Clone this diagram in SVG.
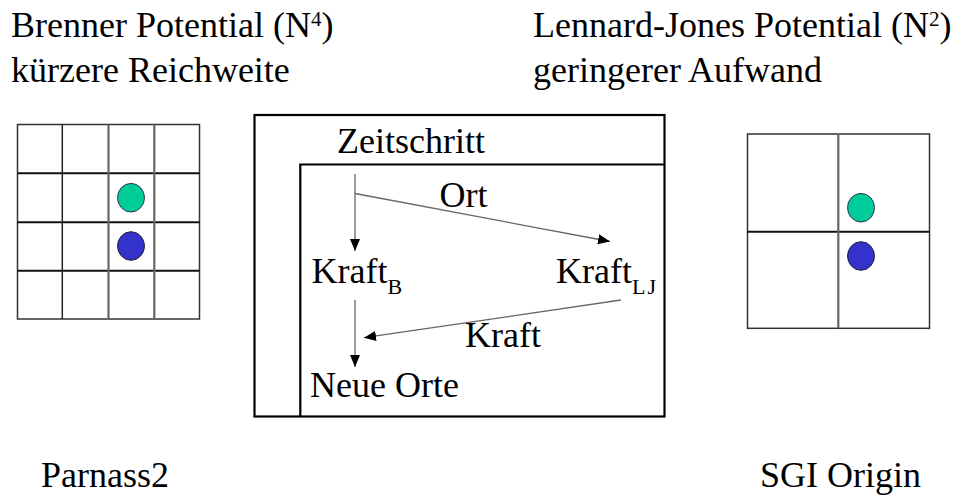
<svg xmlns="http://www.w3.org/2000/svg" width="963" height="496" viewBox="0 0 963 496">
<style>
text{font-family:'Liberation Serif','Times New Roman',Tinos,'DejaVu Serif','Noto Serif',serif;fill:#000;}
.t{font-size:36px;}
.sub{font-size:22px;}
.sup{font-size:21px;}
.cell{fill:#fff;stroke:#333;stroke-width:1.5;}
.hl{stroke:#111;stroke-width:2;}
.vl{stroke:#666;stroke-width:2.2;}
.green{fill:#00CC99;stroke:#335;stroke-width:1;}
.blue{fill:#3333CC;stroke:#223;stroke-width:1;}
.box{fill:none;stroke:#000;stroke-width:2.2;}
.arr{stroke:#666;stroke-width:1.3;fill:none;marker-end:url(#ah);}
</style>
<defs>
<marker id="ah" markerUnits="userSpaceOnUse" markerWidth="13" markerHeight="11" refX="12" refY="5" orient="auto">
<path d="M0,0 L12,5 L0,10 z" fill="#000"/>
</marker>
</defs>
<rect width="963" height="496" fill="#fff"/>

<g id="header-left" font-family="Liberation Serif, Times New Roman, DejaVu Serif, serif">
<text class="t" x="11" y="37">Brenner Potential (N<tspan class="sup" dy="-11">4</tspan><tspan dy="11">)</tspan></text>
<text class="t" x="11" y="82">kürzere Reichweite</text>
</g>
<g id="header-right">
<text class="t" x="533" y="37">Lennard-Jones Potential (N<tspan class="sup" dy="-11">2</tspan><tspan dy="11">)</tspan></text>
<text class="t" x="533" y="82">geringerer Aufwand</text>
</g>

<g id="grid-parnass">
<rect class="cell" x="17.5" y="124.5" width="182" height="194.5"/>
<line class="hl" x1="17.5" y1="173.3" x2="199.5" y2="173.3"/>
<line class="hl" x1="17.5" y1="222.3" x2="199.5" y2="222.3"/>
<line class="hl" x1="17.5" y1="270.7" x2="199.5" y2="270.7"/>
<line stroke="#222" stroke-width="1.5" x1="62.3" y1="124.5" x2="62.3" y2="319"/>
<line class="vl" x1="108.5" y1="124.5" x2="108.5" y2="319"/>
<line class="vl" x1="154.3" y1="124.5" x2="154.3" y2="319"/>
<ellipse class="green" cx="131" cy="197.7" rx="13.5" ry="14.3"/>
<ellipse class="blue" cx="131" cy="246" rx="13.5" ry="14.3"/>
</g>

<g id="grid-sgi">
<rect class="cell" x="747.5" y="134" width="182" height="194.3"/>
<line class="hl" x1="747.5" y1="231.7" x2="929.5" y2="231.7"/>
<line class="vl" x1="838.3" y1="134" x2="838.3" y2="328.3"/>
<ellipse class="green" cx="861" cy="207.7" rx="13.5" ry="14.3"/>
<ellipse class="blue" cx="861" cy="256" rx="13.5" ry="14.3"/>
</g>

<g id="loop-box">
<rect class="box" x="254.5" y="115" width="410" height="301.5"/>
<polyline class="box" points="300.3,416.5 300.3,164.5 664.5,164.5"/>
<text class="t" x="337" y="153">Zeitschritt</text>
</g>

<g id="node-kraft-b">
<text class="t" x="311.5" y="283">Kraft<tspan class="sub" dy="11">B</tspan></text>
</g>
<g id="node-kraft-lj">
<text class="t" x="556" y="283">Kraft<tspan class="sub" dy="11" letter-spacing="2">LJ</tspan></text>
</g>
<g id="node-neue-orte">
<text class="t" x="310" y="397">Neue Orte</text>
</g>

<g id="connectors">
<line class="arr" x1="355" y1="174" x2="355" y2="251"/>
<line class="arr" x1="355" y1="193.5" x2="610" y2="241.5"/>
<line class="arr" x1="355" y1="300" x2="355" y2="367"/>
<line class="arr" x1="621" y1="300" x2="364" y2="337.7"/>
<text class="t" x="439.5" y="207">Ort</text>
<text class="t" x="465" y="347">Kraft</text>
</g>

<g id="labels-bottom">
<text class="t" x="41" y="487" font-size="35">Parnass2</text>
<text class="t" x="760" y="487">SGI Origin</text>
</g>
</svg>
